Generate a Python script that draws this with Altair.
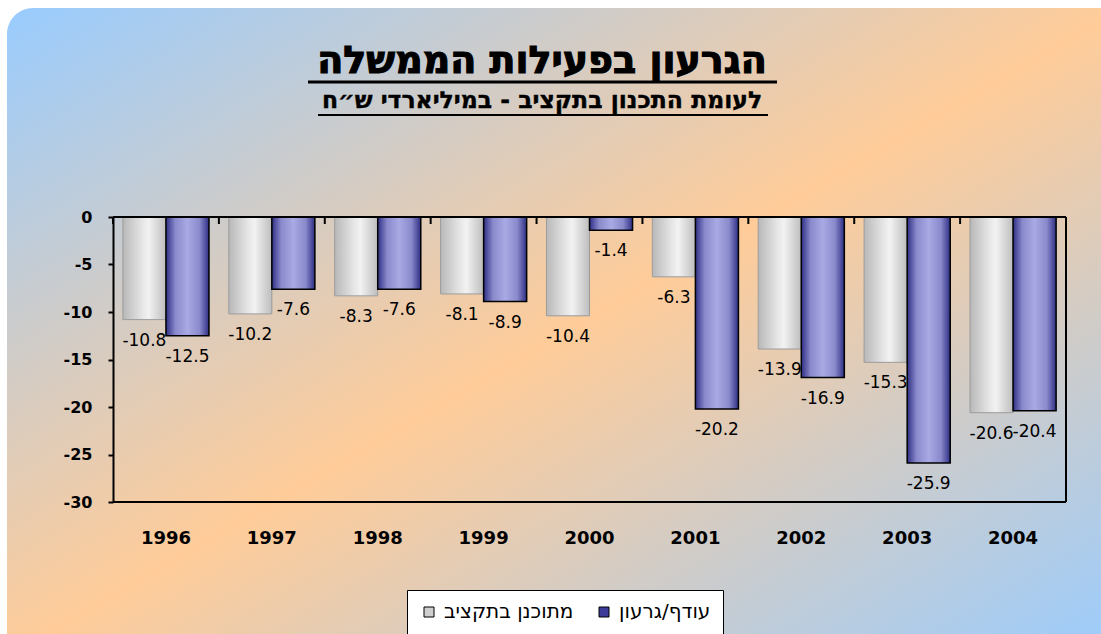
import altair as alt
import pandas as pd

years = ["1996", "1997", "1998", "1999", "2000", "2001", "2002", "2003", "2004"]
planned = [-10.8, -10.2, -8.3, -8.1, -10.4, -6.3, -13.9, -15.3, -20.6]
actual = [-12.5, -7.6, -7.6, -8.9, -1.4, -20.2, -16.9, -25.9, -20.4]
series_names = ["מתוכנן בתקציב", "עודף/גרעון"]
title_text = "הגרעון בפעילות הממשלה"
subtitle_text = "לעומת התכנון בתקציב - במיליארדי ש״ח"
y_ticks = [0, -5, -10, -15, -20, -25, -30]

rows = []
for i, yr in enumerate(years):
    rows.append({"year": yr, "series": series_names[0], "value": planned[i], "label": str(planned[i])})
    rows.append({"year": yr, "series": series_names[1], "value": actual[i], "label": str(actual[i])})
df = pd.DataFrame(rows)

W, H = 953, 285
FONT = "DejaVu Sans"

x_axis = alt.Axis(title=None, labelFontSize=18, labelFontWeight="bold", labelFont=FONT,
                  labelColor="black", domain=False, ticks=False, labelPadding=27,
                  labelAngle=0, zindex=1)
x_enc = alt.X("year:N", sort=years, scale=alt.Scale(paddingInner=0, paddingOuter=0), axis=x_axis)
xoff_enc = alt.XOffset("series:N", sort=series_names,
                       scale=alt.Scale(domain=series_names, paddingOuter=0.23, paddingInner=0))
y_enc = alt.Y(
    "value:Q", scale=alt.Scale(domain=[-30, 0], nice=False),
    axis=alt.Axis(title=None, values=y_ticks, labelExpr="'' + datum.value", labelFontSize=16,
                  labelFontWeight="bold", labelFont=FONT, labelColor="black", domainColor="black",
                  domainWidth=2, tickColor="black", tickWidth=2, tickSize=5, labelPadding=16,
                  grid=False, zindex=1),
)

bg_grad = alt.LinearGradient(
    gradient="linear", x1=0, y1=0, x2=1, y2=1,
    stops=[alt.GradientStop(color="#99ccff", offset=0),
           alt.GradientStop(color="#ffcc99", offset=0.5),
           alt.GradientStop(color="#99ccff", offset=1)],
)
gray_grad = alt.LinearGradient(
    gradient="linear", x1=0, y1=0, x2=1, y2=0,
    stops=[alt.GradientStop(color="#b8b8b8", offset=0),
           alt.GradientStop(color="#e6e6e6", offset=0.45),
           alt.GradientStop(color="#f2f2f2", offset=0.6),
           alt.GradientStop(color="#bdbdbd", offset=1)],
)
blue_grad = alt.LinearGradient(
    gradient="linear", x1=0, y1=0, x2=1, y2=0,
    stops=[alt.GradientStop(color="#2f2f85", offset=0),
           alt.GradientStop(color="#8a8acc", offset=0.22),
           alt.GradientStop(color="#a9a9e4", offset=0.5),
           alt.GradientStop(color="#8a8acc", offset=0.78),
           alt.GradientStop(color="#2f2f85", offset=1)],
)

one = pd.DataFrame({"t": [title_text], "s": [subtitle_text]})

bg = alt.Chart(one).mark_rect(fill=bg_grad, cornerRadius=26).encode(
    x=alt.value(-106), x2=alt.value(1010), y=alt.value(-209), y2=alt.value(440)
)

title = alt.Chart(one).mark_text(font=FONT, fontSize=38, fontWeight="bold", color="black",
                                 stroke="black", strokeWidth=1.2,
                                 align="center", baseline="alphabetic").encode(
    text="t:N", x=alt.value(429), y=alt.value(-144))
subtitle = alt.Chart(one).mark_text(font=FONT, fontSize=23.5, fontWeight="bold", color="black",
                                    stroke="black", strokeWidth=0.4,
                                    align="center", baseline="alphabetic").encode(
    text="s:N", x=alt.value(429), y=alt.value(-109))
ul1 = alt.Chart(one).mark_rule(color="black", strokeWidth=3).encode(
    x=alt.value(195), x2=alt.value(664), y=alt.value(-135))
ul2 = alt.Chart(one).mark_rule(color="black", strokeWidth=2).encode(
    x=alt.value(205), x2=alt.value(655), y=alt.value(-102))

legend_bars = alt.Chart(df).mark_bar().encode(
    x=x_enc, xOffset=xoff_enc, y=y_enc,
    color=alt.Color("series:N", sort=series_names,
                    scale=alt.Scale(domain=series_names, range=["#cfcfcf", "#3d3d99"]),
                    legend=alt.Legend(title=None, orient="none", legendX=294, legendY=373,
                                      direction="horizontal", fillColor="white",
                                      strokeColor="black", padding=12, labelFontSize=20,
                                      labelFont=FONT, labelColor="black", symbolType="square",
                                      symbolSize=100, symbolStrokeColor="black",
                                      symbolStrokeWidth=1, columnPadding=20, labelOffset=5,
                                      labelLimit=300)),
)

gray_bars = alt.Chart(df).transform_filter(alt.datum.series == series_names[0]).mark_bar(
    fill=gray_grad, stroke="#9c9c9c", strokeWidth=1).encode(x=x_enc, xOffset=xoff_enc, y=y_enc)
blue_bars = alt.Chart(df).transform_filter(alt.datum.series == series_names[1]).mark_bar(
    fill=blue_grad, stroke="black", strokeWidth=1.5).encode(x=x_enc, xOffset=xoff_enc, y=y_enc)

labels = alt.Chart(df).mark_text(font=FONT, fontSize=17, color="black", align="center",
                                 baseline="alphabetic", dy=26).encode(
    x=x_enc, xOffset=xoff_enc, y=y_enc, text="label:N")

ticks = alt.Chart(pd.DataFrame({"year": years})).mark_rule(color="black", strokeWidth=2).encode(
    x=alt.X("year:N", sort=years, bandPosition=0,
            scale=alt.Scale(paddingInner=0, paddingOuter=0), axis=x_axis),
    y=alt.value(0), y2=alt.value(7))

frame_top = alt.Chart(one).mark_rule(color="black", strokeWidth=2).encode(
    x=alt.value(0), x2=alt.value(W), y=alt.value(0))
frame_right = alt.Chart(one).mark_rule(color="black", strokeWidth=2).encode(
    x=alt.value(W), y=alt.value(0), y2=alt.value(H))
frame_bottom = alt.Chart(one).mark_rule(color="black", strokeWidth=2).encode(
    x=alt.value(0), x2=alt.value(W), y=alt.value(H))

chart = alt.layer(bg, title, subtitle, ul1, ul2, legend_bars, gray_bars, blue_bars, labels,
                  ticks, frame_top, frame_right, frame_bottom).properties(
    width=W, height=H,
    padding={"left": 113, "top": 217, "right": 35, "bottom": 132},
    autosize=alt.AutoSizeParams(type="none"),
    background="white",
).configure_view(stroke=None)

chart.save("out.html", embed_options={"renderer": "svg", "actions": False})
